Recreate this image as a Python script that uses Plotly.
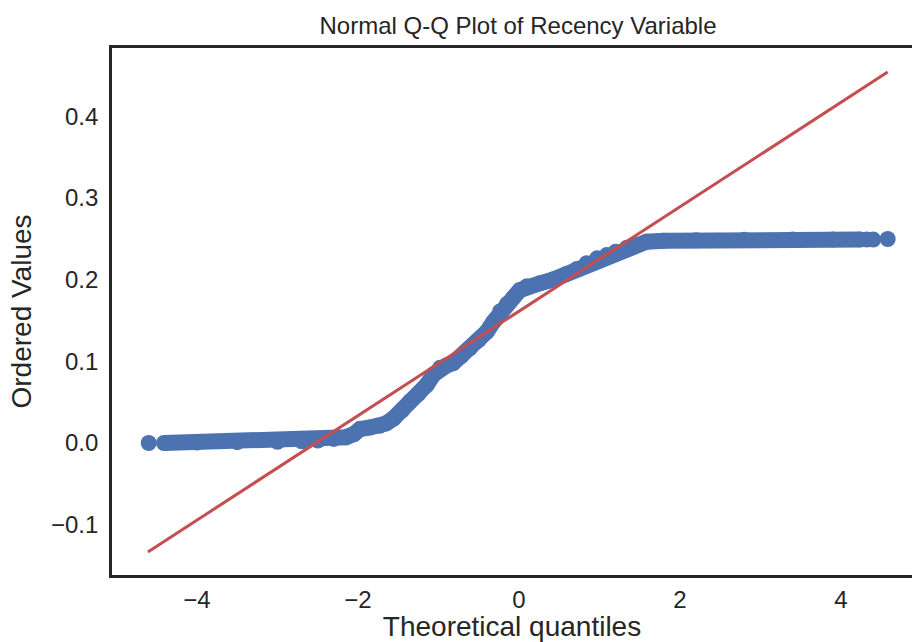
import plotly.graph_objects as go

# Q-Q band (theoretical quantile, ordered value)
band_x = [-4.41, -4.0, -3.5, -3.0, -2.7, -2.5, -2.3, -2.15, -2.05, -1.975, -1.85, -1.73,
          -1.65, -1.56, -1.45, -1.354, -1.25, -1.147, -1.06, -0.98, -0.9, -0.816, -0.72,
          -0.609, -0.5, -0.401, -0.32, -0.236, -0.15, -0.07, 0.01, 0.1, 0.26, 0.42, 0.59,
          0.72, 0.84, 0.97, 1.09, 1.2, 1.34, 1.45, 1.586, 1.8, 2.2, 2.8, 3.4, 3.9, 4.24]
band_y = [0.0, 0.0005, 0.001, 0.0015, 0.002, 0.003, 0.005, 0.007, 0.011, 0.017, 0.019, 0.021,
          0.024, 0.030, 0.040, 0.051, 0.060, 0.071, 0.084, 0.092, 0.095, 0.098, 0.106,
          0.116, 0.126, 0.136, 0.148, 0.161, 0.170, 0.178, 0.187, 0.192, 0.1955, 0.200, 0.207,
          0.213, 0.220, 0.226, 0.230, 0.234, 0.239, 0.243, 0.2464, 0.2475, 0.2482, 0.2487,
          0.249, 0.249, 0.249]

# isolated extreme points
tail_x = [-4.6, 4.32, 4.40, 4.58]
tail_y = [0.0, 0.249, 0.249, 0.2497]

# fitted reference line end points
fit_x = [-4.61, 4.58]
fit_y = [-0.1334, 0.454]

x_ticks = [-4, -2, 0, 2, 4]
y_ticks = [-0.1, 0.0, 0.1, 0.2, 0.3, 0.4]

BLUE = "#4c72b0"
RED = "#c44e52"
INK = "#262626"
FONT = "Liberation Sans, Arial, sans-serif"

fig = go.Figure()
fig.add_trace(go.Scatter(x=band_x, y=band_y, mode="lines+markers",
                         line=dict(color=BLUE, width=16),
                         marker=dict(color=BLUE, size=16, line=dict(width=0)),
                         showlegend=False))
fig.add_trace(go.Scatter(x=tail_x, y=tail_y, mode="markers",
                         marker=dict(color=BLUE, size=16, line=dict(width=0)),
                         showlegend=False))
fig.add_trace(go.Scatter(x=fit_x, y=fit_y, mode="lines",
                         line=dict(color=RED, width=3),
                         showlegend=False))

fig.update_layout(
    width=912, height=642,
    margin=dict(l=112, r=0, t=48, b=67),
    paper_bgcolor="white", plot_bgcolor="white",
    font=dict(family=FONT, color=INK),
    title=dict(text="Normal Q-Q Plot of Recency Variable",
               font=dict(size=24, color=INK, family=FONT),
               x=(518 - 112) / 800, xref="paper", xanchor="center",
               y=1 - 26 / 642, yref="container", yanchor="middle"),
    xaxis=dict(range=[-5.056, 4.882], tickvals=x_ticks, automargin=False,
               showgrid=False, zeroline=False,
               showline=True, linecolor=INK, linewidth=2.6, mirror=True,
               ticks="outside", ticklen=1, tickcolor="rgba(0,0,0,0)",
               tickfont=dict(size=24, color=INK),
               title=dict(text="Theoretical quantiles", font=dict(size=28, color=INK),
                          standoff=14)),
    yaxis=dict(range=[-0.1616, 0.4835], tickvals=y_ticks, tickformat=".1f",
               automargin=False,
               showgrid=False, zeroline=False,
               showline=True, linecolor=INK, linewidth=2.6, mirror=False,
               ticks="outside", ticklen=6, tickcolor="rgba(0,0,0,0)",
               tickfont=dict(size=24, color=INK),
               title=dict(text="Ordered Values", font=dict(size=28, color=INK),
                          standoff=12)),
)

fig.write_html("out.html")
